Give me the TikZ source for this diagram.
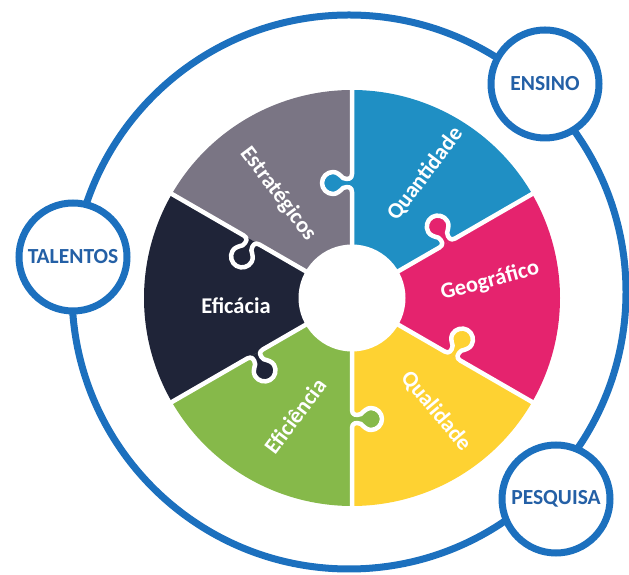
\documentclass[tikz,border=0pt]{standalone}
\usepackage{fontspec}
\setmainfont{Carlito}
\begin{document}
\begin{tikzpicture}[x=1pt,y=1pt]
\definecolor{ringblue}{RGB}{28,112,190}
\definecolor{hubtext}{RGB}{36,96,166}
\definecolor{pgray}{RGB}{122,117,132}
\definecolor{pblue}{RGB}{31,143,196}
\definecolor{ppink}{RGB}{229,35,110}
\definecolor{pyellow}{RGB}{254,210,50}
\definecolor{pgreen}{RGB}{134,185,74}
\definecolor{pdark}{RGB}{31,36,56}
\tikzset{
  orbit/.style={draw=ringblue, line width=7},
  hub/.style={circle, draw=ringblue, line width=7, fill=white, minimum size=108,
    inner sep=0pt, text=hubtext, font=\fontsize{21.5}{21.5}\selectfont\bfseries},
  gap/.style={draw=white, line width=4.5, line join=round},
  lbl/.style={text=white, inner sep=0pt, font=\fontsize{22.5}{22.5}\selectfont\bfseries},
}
% jigsaw tab along a ray on the x axis, bulging to +y, centred at #1
\newcommand\knobseg[1]{%
  -- (#1-9,0) .. controls (#1-4,0) and (#1-3,4) .. (#1-5,9)
  .. controls (#1-8,12) and (#1-11,15) .. (#1-11,19)
  .. controls (#1-11,25) and (#1-6,30) .. (#1,30)
  .. controls (#1+6,30) and (#1+11,25) .. (#1+11,19)
  .. controls (#1+11,15) and (#1+8,12) .. (#1+5,9)
  .. controls (#1+3,4) and (#1+4,0) .. (#1+9,0)}
\useasboundingbox (0,0) rectangle (629,575);

% outer orbit
\coordinate (oc) at (349,283);
\draw[orbit] (oc) circle[radius=277];

% puzzle wheel
\coordinate (W) at (352,277);
\foreach \a/\col/\k in {90/pgray/116, 30/pblue/115, -30/ppink/110,
                        -90/pyellow/116, -150/pgreen/121, 150/pdark/112}{
  \fill[\col] (W) -- ++(\a:208) arc[start angle=\a, end angle=\a+60, radius=208] -- cycle;
  \begin{scope}[shift={(W)}, rotate=\a+60]
    \fill[\col] (\k-9,0) \knobseg{\k} -- cycle;
  \end{scope}
}
\foreach \t/\k in {90/115, 30/110, -30/116, -90/121, 210/112, 150/116}{
  \begin{scope}[shift={(W)}, rotate=\t]
    \draw[gap] (0,0) \knobseg{\k} -- (214,0);
  \end{scope}
}
\node[circle, fill=white, minimum size=107, inner sep=0pt] (hole) at (W) {};

% piece labels
\node[lbl, rotate=-53] (estrategicos) at (278,381) {Estratégicos};
\node[lbl, rotate=53]  (quantidade)   at (425,401) {Quantidade};
\node[lbl, rotate=15]  (geografico)   at (490,294) {Geográfico};
\node[lbl]             (eficacia)     at (236,269) {Eficácia};
\node[lbl, rotate=53]  (eficiencia)   at (295,159) {Eficiência};
\node[lbl, rotate=-50] (qualidade)    at (436,164) {Qualidade};

% hubs on the orbit
\node[hub] (ensino)   at (545,491) {ENSINO};
\node[hub] (talentos) at (73,318)  {TALENTOS};
\node[hub] (pesquisa) at (556,76)  {PESQUISA};
\end{tikzpicture}
\end{document}
